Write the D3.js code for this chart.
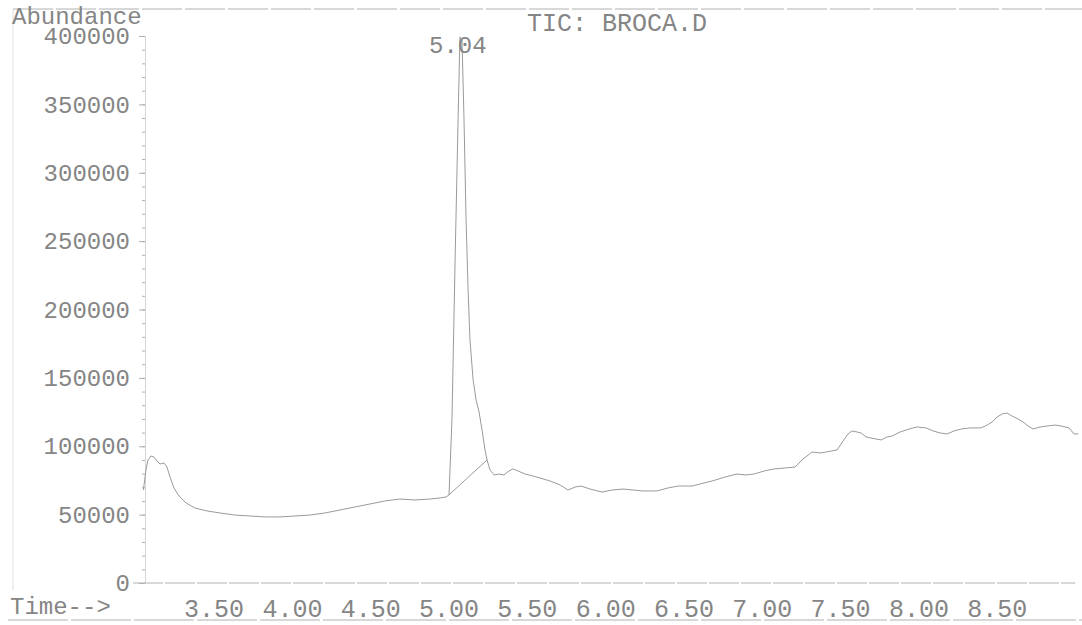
<!DOCTYPE html>
<html>
<head>
 <meta charset="utf-8"/>
 <script src="https://d3js.org/d3.v7.min.js"></script>
 <style>
  body { margin: 0; background: #fff; }
  text { font-family: "Courier New", "Liberation Mono", monospace; fill: #858585; }
 </style>
</head>
<body>
 <div id="graph"></div>
 <script type="text/javascript">
   // クロマトグラムのデータ
   var times = [3.02, 3.036, 3.049, 3.068, 3.087, 3.107, 3.126, 3.151, 3.170, 3.190, 3.215, 3.247, 3.292, 3.349, 3.426,
     3.509, 3.605, 3.700, 3.796, 3.892, 3.988, 4.084, 4.179, 4.275, 4.371, 4.467, 4.563, 4.658, 4.754, 4.850, 4.914,
     4.952, 4.971, 4.990, 5.010, 5.029, 5.041, 5.054, 5.067, 5.080, 5.093, 5.105, 5.125, 5.144, 5.163, 5.182, 5.201,
     5.214, 5.233, 5.259, 5.291, 5.322, 5.354, 5.380, 5.412, 5.457, 5.508, 5.552, 5.616, 5.680, 5.731, 5.776, 5.814,
     5.872, 5.948, 6.012, 6.082, 6.146, 6.210, 6.299, 6.369, 6.434, 6.523, 6.574, 6.651, 6.734, 6.810, 6.868, 6.919,
     6.983, 7.047, 7.117, 7.181, 7.225, 7.289, 7.340, 7.379, 7.449, 7.487, 7.519, 7.545, 7.577, 7.602, 7.634, 7.666,
     7.730, 7.768, 7.800, 7.851, 7.909, 7.960, 8.017, 8.062, 8.107, 8.151, 8.196, 8.241, 8.298, 8.368, 8.407, 8.439,
     8.471, 8.503, 8.534, 8.566, 8.605, 8.637, 8.669, 8.700, 8.745, 8.790, 8.841, 8.879, 8.930, 8.962, 8.988];
   var abundance = [68000, 82600, 90000, 92900, 92100, 89200, 87000, 87800, 84800, 77500, 69500, 63600, 58500, 54800, 52700,
     51200, 49700, 49000, 48300, 48300, 49000, 49700, 51200, 53400, 55600, 57800, 60000, 61400, 60700, 61400, 62200,
     62900, 64400, 119200, 236200, 338600, 399300, 397100, 338600, 265500, 214300, 177700, 148500, 133800, 125100, 111900, 97300,
     90000, 82600, 79000, 79700, 79000, 81900, 83400, 81900, 79700, 78200, 76800, 74600, 71700, 68000, 70200, 70900,
     68700, 66500, 68000, 68700, 68000, 67300, 67300, 69500, 70900, 70900, 72400, 74600, 77500, 79700, 79000, 79700,
     81900, 83400, 84100, 84800, 90000, 95800, 95100, 95800, 97300, 103800, 109000, 111200, 110400, 109700, 106800, 106000,
     104600, 106800, 107500, 110400, 112600, 114100, 113400, 111200, 109700, 109000, 111200, 112600, 113400, 113400, 115500, 117700,
     121400, 123600, 124300, 122100, 119900, 117700, 114800, 112600, 114100, 114800, 115500, 114800, 113400, 109000, 109000];
   // 積分ベースライン (ピーク 5.04)
   var baseTimes = [4.971, 5.214];
   var baseValues = [64400, 90000];
   var peakTime = 5.04;
   var peakLabel = "5.04";
   // 軸の目盛り
   var xTicks = [3.5, 4.0, 4.5, 5.0, 5.5, 6.0, 6.5, 7.0, 7.5, 8.0, 8.5];
   var yTicks = [0, 50000, 100000, 150000, 200000, 250000, 300000, 350000, 400000];
   var yMinorTicks = d3.range(0, 400001, 10000);
   var title = "TIC: BROCA.D";

   var width = 1082;
   var height = 625;
   var lineColor = "#b0b0b0";
   var traceColor = "#9a9a9a";
   var font = "'Courier New', 'Liberation Mono', monospace";

   var svg = d3.select("#graph")
               .append("svg")
               .attr("width", width)
               .attr("height", height);
   var xScale = d3.scaleLinear().domain([3.03, 9.0]).range([145, 1080]);
   var yScale = d3.scaleLinear().domain([0, 400000]).range([583, 36]);

   // 枠線
   svg.append("line").attr("x1", 13).attr("x2", 1082).attr("y1", 9).attr("y2", 9)
      .style("stroke", lineColor).style("stroke-dasharray", "40,3");
   svg.append("line").attr("x1", 13).attr("x2", 13).attr("y1", 9).attr("y2", 590)
      .style("stroke", "#e0e0e0");
   svg.append("line").attr("x1", 8).attr("x2", 1082).attr("y1", 620).attr("y2", 620)
      .style("stroke", lineColor).style("stroke-dasharray", "60,3");

   // y軸 (主目盛りと副目盛り)
   var yAxisMinor = d3.axisLeft(yScale).tickValues(yMinorTicks).tickSize(3).tickFormat("");
   var gMinor = svg.append("g").attr("transform", "translate(145,0)").call(yAxisMinor);
   gMinor.select(".domain").style("stroke", "#d6d6d6");
   gMinor.selectAll(".tick line").style("stroke", lineColor);
   var yAxis = d3.axisLeft(yScale).tickValues(yTicks).tickSize(6).tickPadding(9).tickFormat(d3.format("d"));
   var gy = svg.append("g").attr("transform", "translate(145,0)").call(yAxis);
   gy.select(".domain").remove();
   gy.selectAll(".tick line").style("stroke", lineColor);
   gy.selectAll(".tick text").style("font-size", "24px").style("fill", "#858585").style("font-family", font);

   // x軸 (ゼロ線とラベル)
   svg.append("line")
      .attr("x1", xScale.range()[0] - 12).attr("x2", xScale(8.97))
      .attr("y1", yScale(0)).attr("y2", yScale(0))
      .style("stroke", lineColor).style("stroke-dasharray", "30,2");
   var xAxis = d3.axisBottom(xScale).tickValues(xTicks).tickSize(0).tickPadding(16).tickFormat(d3.format(".2f"));
   var gx = svg.append("g").attr("transform", "translate(0," + yScale(0) + ")").call(xAxis);
   gx.select(".domain").remove();
   gx.selectAll(".tick text").attr("dx", -5).style("font-size", "25px").style("fill", "#858585").style("font-family", font);

   // ラベル
   svg.append("text").attr("x", 12).attr("y", 24).style("font-size", "24px").text("Abundance");
   svg.append("text").attr("x", 10).attr("y", 614).style("font-size", "24px").text("Time-->");
   svg.append("text").attr("x", 527).attr("y", 31).style("font-size", "25px").text(title);

   // トレース
   var line = d3.line()
                .x(function(d, i) { return xScale(times[i]); })
                .y(function(d) { return yScale(d); });
   svg.append("path")
      .datum(abundance)
      .attr("d", line)
      .style("stroke", traceColor)
      .style("stroke-width", 1)
      .style("fill", "none");
   var baseLine = d3.line()
                    .x(function(d, i) { return xScale(baseTimes[i]); })
                    .y(function(d) { return yScale(d); });
   svg.append("path")
      .datum(baseValues)
      .attr("d", baseLine)
      .style("stroke", traceColor)
      .style("stroke-width", 1)
      .style("fill", "none");

   // ピークのラベル
   svg.append("text")
      .attr("x", xScale(peakTime) - 2).attr("y", 53)
      .attr("text-anchor", "middle")
      .style("font-size", "24px")
      .text(peakLabel);
 </script>
</body>
</html>
